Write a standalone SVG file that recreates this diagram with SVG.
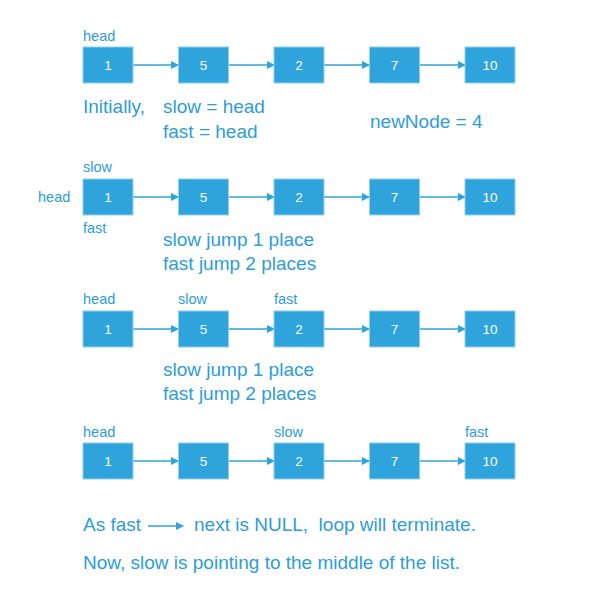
<svg xmlns="http://www.w3.org/2000/svg" width="595" height="600" viewBox="0 0 595 600">
<defs>
<marker id="ah" markerWidth="8" markerHeight="8" refX="7" refY="4" orient="auto" markerUnits="userSpaceOnUse">
<path d="M0,0 L8,4 L0,8 Z" fill="#2ea3dc"/>
</marker>
<style>
.box{fill:#2ea3dc;stroke:#8fd0f0;stroke-width:1}
.num{font-family:"Liberation Sans",Arial,sans-serif;font-size:13.5px;fill:#ffffff;text-anchor:middle}
.lbl{font-family:"Liberation Sans",Arial,sans-serif;font-size:14.5px;fill:#2e9cd9}
.big{font-family:"Liberation Sans",Arial,sans-serif;font-size:19px;fill:#2e9cd9}
.con{stroke:#2ea3dc;stroke-width:1.3;fill:none;marker-end:url(#ah)}
</style>
</defs>
<rect width="595" height="600" fill="#ffffff"/>
<g id="connectors">
<line class="con" x1="133" y1="65" x2="178" y2="65"/>
<line class="con" x1="229" y1="65" x2="274" y2="65"/>
<line class="con" x1="324" y1="65" x2="369" y2="65"/>
<line class="con" x1="420" y1="65" x2="465" y2="65"/>
<line class="con" x1="133" y1="197" x2="178" y2="197"/>
<line class="con" x1="229" y1="197" x2="274" y2="197"/>
<line class="con" x1="324" y1="197" x2="369" y2="197"/>
<line class="con" x1="420" y1="197" x2="465" y2="197"/>
<line class="con" x1="133" y1="329" x2="178" y2="329"/>
<line class="con" x1="229" y1="329" x2="274" y2="329"/>
<line class="con" x1="324" y1="329" x2="369" y2="329"/>
<line class="con" x1="420" y1="329" x2="465" y2="329"/>
<line class="con" x1="133" y1="461" x2="178" y2="461"/>
<line class="con" x1="229" y1="461" x2="274" y2="461"/>
<line class="con" x1="324" y1="461" x2="369" y2="461"/>
<line class="con" x1="420" y1="461" x2="465" y2="461"/>
<line class="con" x1="148" y1="526" x2="183" y2="526"/>
</g>
<g id="row1">
<g id="r1n1"><rect class="box" x="83" y="47" width="50" height="36"/><text class="num" x="108" y="70">1</text></g>
<g id="r1n2"><rect class="box" x="178.5" y="47" width="50" height="36"/><text class="num" x="203.5" y="70">5</text></g>
<g id="r1n3"><rect class="box" x="274" y="47" width="50" height="36"/><text class="num" x="299" y="70">2</text></g>
<g id="r1n4"><rect class="box" x="369.5" y="47" width="50" height="36"/><text class="num" x="394.5" y="70">7</text></g>
<g id="r1n5"><rect class="box" x="465" y="47" width="50" height="36"/><text class="num" x="490" y="70">10</text></g>
</g>
<g id="row2">
<g id="r2n1"><rect class="box" x="83" y="179" width="50" height="36"/><text class="num" x="108" y="202">1</text></g>
<g id="r2n2"><rect class="box" x="178.5" y="179" width="50" height="36"/><text class="num" x="203.5" y="202">5</text></g>
<g id="r2n3"><rect class="box" x="274" y="179" width="50" height="36"/><text class="num" x="299" y="202">2</text></g>
<g id="r2n4"><rect class="box" x="369.5" y="179" width="50" height="36"/><text class="num" x="394.5" y="202">7</text></g>
<g id="r2n5"><rect class="box" x="465" y="179" width="50" height="36"/><text class="num" x="490" y="202">10</text></g>
</g>
<g id="row3">
<g id="r3n1"><rect class="box" x="83" y="311" width="50" height="36"/><text class="num" x="108" y="334">1</text></g>
<g id="r3n2"><rect class="box" x="178.5" y="311" width="50" height="36"/><text class="num" x="203.5" y="334">5</text></g>
<g id="r3n3"><rect class="box" x="274" y="311" width="50" height="36"/><text class="num" x="299" y="334">2</text></g>
<g id="r3n4"><rect class="box" x="369.5" y="311" width="50" height="36"/><text class="num" x="394.5" y="334">7</text></g>
<g id="r3n5"><rect class="box" x="465" y="311" width="50" height="36"/><text class="num" x="490" y="334">10</text></g>
</g>
<g id="row4">
<g id="r4n1"><rect class="box" x="83" y="443" width="50" height="36"/><text class="num" x="108" y="466">1</text></g>
<g id="r4n2"><rect class="box" x="178.5" y="443" width="50" height="36"/><text class="num" x="203.5" y="466">5</text></g>
<g id="r4n3"><rect class="box" x="274" y="443" width="50" height="36"/><text class="num" x="299" y="466">2</text></g>
<g id="r4n4"><rect class="box" x="369.5" y="443" width="50" height="36"/><text class="num" x="394.5" y="466">7</text></g>
<g id="r4n5"><rect class="box" x="465" y="443" width="50" height="36"/><text class="num" x="490" y="466">10</text></g>
</g>
<g id="labels">
<text class="lbl" x="83" y="41">head</text>
<text class="big" x="83" y="113">Initially,</text>
<text class="big" x="163" y="113">slow = head</text>
<text class="big" x="163" y="138">fast = head</text>
<text class="big" x="370" y="128">newNode = 4</text>
<text class="lbl" x="83" y="172">slow</text>
<text class="lbl" x="38" y="202">head</text>
<text class="lbl" x="83" y="233">fast</text>
<text class="big" x="163" y="246">slow jump 1 place</text>
<text class="big" x="163" y="270">fast jump 2 places</text>
<text class="lbl" x="83" y="304">head</text>
<text class="lbl" x="178" y="304">slow</text>
<text class="lbl" x="274" y="304">fast</text>
<text class="big" x="163" y="376">slow jump 1 place</text>
<text class="big" x="163" y="400">fast jump 2 places</text>
<text class="lbl" x="83" y="437">head</text>
<text class="lbl" x="274" y="437">slow</text>
<text class="lbl" x="465" y="437">fast</text>
<text class="big" x="83" y="531">As fast</text>
<text class="big" x="194" y="531" style="white-space:pre" xml:space="preserve">next is NULL,  loop will terminate.</text>
<text class="big" x="83" y="569">Now, slow is pointing to the middle of the list.</text>
</g>
</svg>
